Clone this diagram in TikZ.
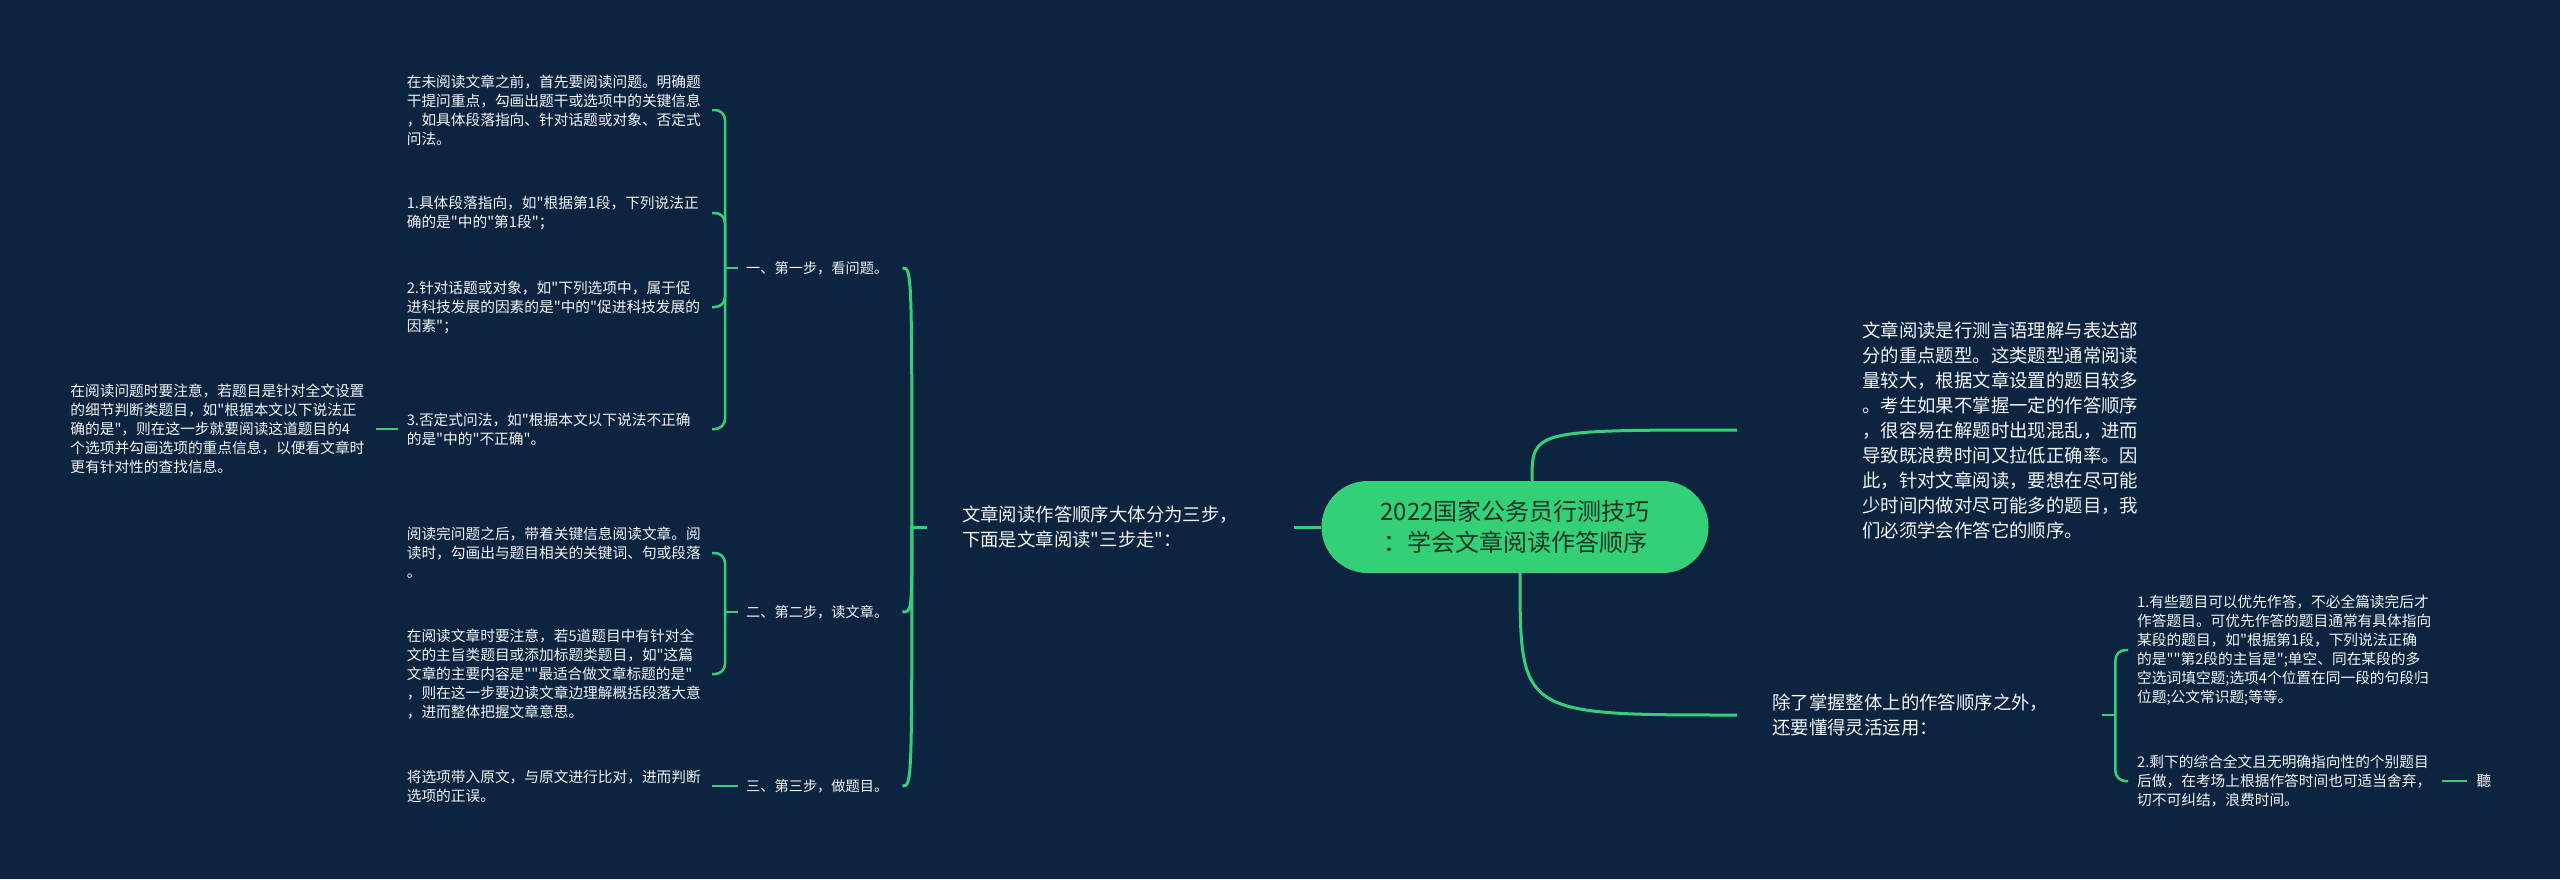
\documentclass[tikz,border=0pt]{standalone}
\usepackage{fontspec}
\newfontfamily\cjk{Noto Sans CJK SC}
\usetikzlibrary{positioning}
\definecolor{night}{RGB}{12,36,64}
\definecolor{leaf}{RGB}{52,208,120}
\definecolor{ink}{RGB}{242,244,246}
\definecolor{deep}{RGB}{22,52,36}
\tikzset{
    hub/.style={fill=leaf,text=deep,rounded corners=46pt,minimum width=387pt,minimum height=92pt,align=center,font=\cjk\fontsize{24}{31}\selectfont},
    topic/.style={text=ink,align=left,text width=297pt,inner xsep=35pt,font=\cjk\fontsize{18.4}{25}\selectfont},
    stepbox/.style={text=ink,align=left,text width=148pt,inner xsep=8pt,font=\cjk\fontsize{14.2}{19}\selectfont},
    leafnote/.style={text=ink,align=left,text width=296pt,inner xsep=9pt,font=\cjk\fontsize{14.7}{19}\selectfont},
    link/.style={draw=leaf,line width=3pt},
    twig/.style={draw=leaf,line width=2.5pt,rounded corners=10pt}
}

\begin{document}
\begin{tikzpicture}[x=1pt,y=-1pt]

    \fill[night] (0,0) rectangle (2560,879);
    \useasboundingbox (0,0) rectangle (2560,879);

    % centre
    \node[hub] (hub) at (1515,527) {2022国家公务员行测技巧\\：学会文章阅读作答顺序};

    % left side
    \node[topic,left=27pt of hub] (steps) {文章阅读作答顺序大体分为三步，\\下面是文章阅读"三步走"：};

    \node[stepbox,anchor=west] (step1) at (738,268) {一、第一步，看问题。};
    \node[stepbox,anchor=west] (step2) at (738,612) {二、第二步，读文章。};
    \node[stepbox,anchor=west] (step3) at (738,786) {三、第三步，做题目。};

    \node[leafnote,anchor=east] (tip11) at (712,110) {在未阅读文章之前，首先要阅读问题。明确题\\干提问重点，勾画出题干或选项中的关键信息\\，如具体段落指向、针对话题或对象、否定式\\问法。};
    \node[leafnote,anchor=east] (tip12) at (712,213) {1.具体段落指向，如"根据第1段，下列说法正\\确的是"中的"第1段"；};
    \node[leafnote,anchor=east] (tip13) at (712,307) {2.针对话题或对象，如"下列选项中，属于促\\进科技发展的因素的是"中的"促进科技发展的\\因素"；};
    \node[leafnote,anchor=east] (tip14) at (712,429) {3.否定式问法，如"根据本文以下说法不正确\\的是"中的"不正确"。};
    \node[leafnote,left=22pt of tip14] (note) {在阅读问题时要注意，若题目是针对全文设置\\的细节判断类题目，如"根据本文以下说法正\\确的是"，则在这一步就要阅读这道题目的4\\个选项并勾画选项的重点信息，以便看文章时\\更有针对性的查找信息。};

    \node[leafnote,anchor=east] (tip21) at (712,553) {阅读完问题之后，带着关键信息阅读文章。阅\\读时，勾画出与题目相关的关键词、句或段落\\。};
    \node[leafnote,anchor=east] (tip22) at (712,674) {在阅读文章时要注意，若5道题目中有针对全\\文的主旨类题目或添加标题类题目，如"这篇\\文章的主要内容是""最适合做文章标题的是"\\，则在这一步要边读文章边理解概括段落大意\\，进而整体把握文章意思。};

    \node[leafnote,anchor=east] (tip31) at (712,786) {将选项带入原文，与原文进行比对，进而判断\\选项的正误。};

    % right side
    \node[topic,anchor=west,text width=285pt,inner xsep=125pt] (intro) at (1737,430) {文章阅读是行测言语理解与表达部\\分的重点题型。这类题型通常阅读\\量较大，根据文章设置的题目较多\\。考生如果不掌握一定的作答顺序\\，很容易在解题时出现混乱，进而\\导致既浪费时间又拉低正确率。因\\此，针对文章阅读，要想在尽可能\\少时间内做对尽可能多的题目，我\\们必须学会作答它的顺序。};
    \node[topic,anchor=west,text width=295pt] (flex) at (1737,715) {除了掌握整体上的作答顺序之外，\\还要懂得灵活运用：};

    \node[leafnote,anchor=west] (flex1) at (2128,650) {1.有些题目可以优先作答，不必全篇读完后才\\作答题目。可优先作答的题目通常有具体指向\\某段的题目，如"根据第1段，下列说法正确\\的是""第2段的主旨是";单空、同在某段的多\\空选词填空题;选项4个位置在同一段的句段归\\位题;公文常识题;等等。};
    \node[leafnote,anchor=west] (flex2) at (2128,781) {2.剩下的综合全文且无明确指向性的个别题目\\后做，在考场上根据作答时间也可适当舍弃，\\切不可纠结，浪费时间。};
    \node[leafnote,right=25pt of flex2,text width={}] (ting) {聽};

    % connectors
    \coordinate (up) at ([xshift=17pt]hub.north);
    \coordinate (down) at ([xshift=5pt]hub.south);
    \draw[link] (hub.west) -- (steps.east);
    \draw[link] (up) .. controls (up |- intro.west) .. (intro.west);
    \draw[link] (down) .. controls (down |- flex.west) .. (flex.west);

    \draw[link] (steps.west) -- ++(-15,0) coordinate (fork0);
    \foreach \s in {1,2,3}
        \draw[link] (fork0) .. controls (fork0 |- step\s.east) .. (step\s.east);

    \draw[twig] (step1.west) -- ++(-13,0) coordinate (fork1);
    \foreach \t in {11,12,13,14}
        \draw[twig] (fork1) |- (tip\t.east);
    \draw[twig] (note.east) -- (tip14.west);

    \draw[twig] (step2.west) -- ++(-13,0) coordinate (fork2);
    \foreach \t in {21,22}
        \draw[twig] (fork2) |- (tip\t.east);

    \draw[twig] (step3.west) -- (tip31.east);

    \draw[twig] (flex.east) -- ++(13,0) coordinate (fork4);
    \foreach \t in {1,2}
        \draw[twig] (fork4) |- (flex\t.west);
    \draw[twig] (flex2.east) -- (ting.west);

\end{tikzpicture}
\end{document}
